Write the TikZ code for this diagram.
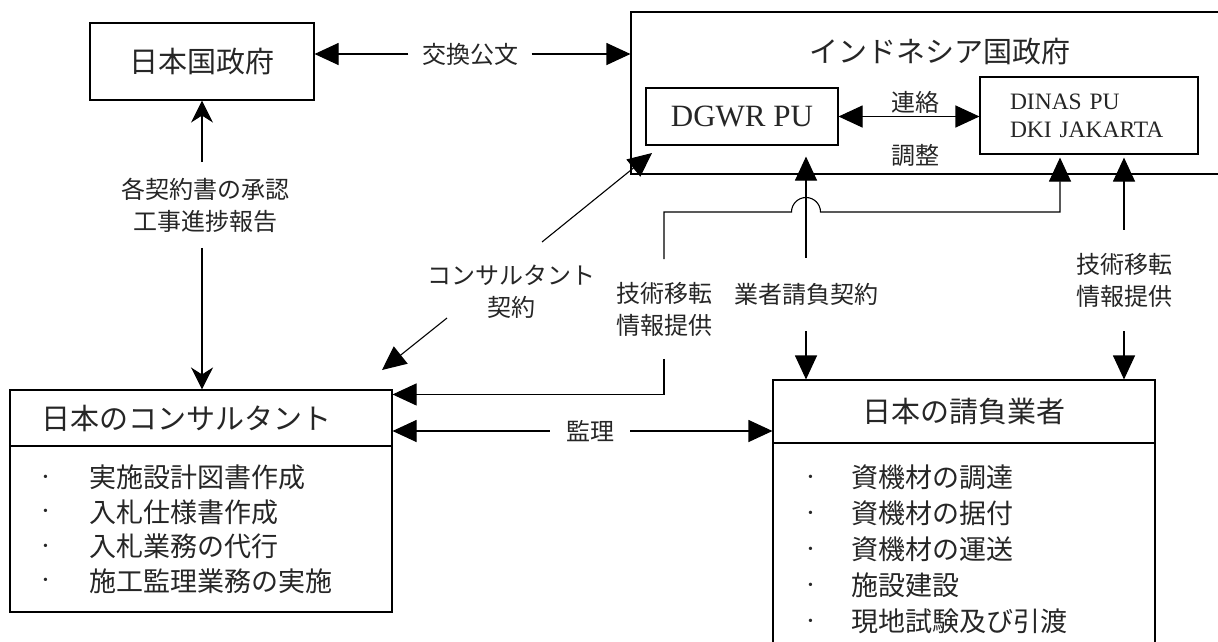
\documentclass[tikz,border=0pt]{standalone}
\usepackage{fontspec}
\setmainfont{Liberation Serif}
\newfontfamily\jpf{Noto Sans CJK JP}
\usetikzlibrary{arrows.meta}
\newcommand\itembul[1]{\makebox[#1][l]{\hspace*{0pt}\raisebox{6.5pt}{\rmfamily\fontsize{14}{14}\selectfont •}}}
\begin{document}
\begin{tikzpicture}[x=1pt,y=-1pt,
  box/.style={draw, line width=1.1pt, inner sep=0pt, text=black!85},
  ttl/.style={font=\jpf\fontsize{29}{34}\selectfont, text=black!85, inner sep=0pt},
  lbl/.style={font=\jpf\fontsize{24}{32}\selectfont, text=black!85, align=center, inner xsep=0pt, inner ysep=0pt},
  arr/.style={line width=1.1pt, -{Triangle[length=24pt,width=22pt]}},
  darr/.style={line width=1.1pt, {Triangle[length=24pt,width=22pt]}-{Triangle[length=24pt,width=22pt]}},
  sarr/.style={line width=1.1pt, -{Stealth[length=22pt,width=22pt,inset=7pt]}}]
\useasboundingbox (0,0) rectangle (1218,641);
\clip (0,0) rectangle (1218,641);
\fill[white] (0,0) rectangle (1218,641);

% boxes
\node[box, minimum width=224pt, minimum height=77pt, font=\jpf\fontsize{29}{34}\selectfont] (jp) at (202,61.5) {日本国政府};
\node[box, minimum width=619pt, minimum height=162pt] (ig) at (940.5,93) {};
\node[ttl] (igt) at (940,52) {インドネシア国政府};
\node[box, minimum width=192pt, minimum height=57pt, font=\fontsize{31}{36}\selectfont] (dg) at (742,116.5) {DGWR PU};
\node[box, minimum width=218pt, minimum height=77pt, text width=158pt, inner xsep=30pt, align=left, font=\fontsize{23.5}{28}\selectfont] (di) at (1089,115.5) {DINAS PU\\DKI JAKARTA};

\node[box, minimum width=382pt, minimum height=56pt, text width=320pt, inner xsep=31pt, align=left, font=\jpf\fontsize{29}{34}\selectfont] (co1) at (201,418) {日本のコンサルタント};
\node[box, minimum width=382pt, minimum height=166pt, text width=316pt, inner xsep=33pt, align=left, font=\jpf\fontsize{27}{34.5}\selectfont] (co2) at (201,529)
  {\itembul{46pt}実施設計図書作成\\\itembul{46pt}入札仕様書作成\\\itembul{46pt}入札業務の代行\\\itembul{46pt}施工監理業務の実施};

\node[box, minimum width=382pt, minimum height=63pt, font=\jpf\fontsize{29}{34}\selectfont] (ct) at (964,411.5) {日本の請負業者};
\node[box, minimum width=382pt, minimum height=213pt, text width=312pt, inner xsep=35pt, align=left, font=\jpf\fontsize{27}{36}\selectfont] (cb) at (964,549.5)
  {\itembul{43pt}資機材の調達\\\itembul{43pt}資機材の据付\\\itembul{43pt}資機材の運送\\\itembul{43pt}施設建設\\\itembul{43pt}現地試験及び引渡};

% labels
\node[lbl] (rl) at (915,102) {連絡};
\node[lbl] (cs) at (915,155) {調整};
\node[lbl, inner xsep=13.5pt] (kk) at (470,54) {交換公文};
\node[lbl, inner ysep=15.5pt] (ap) at (205,205) {各契約書の承認\\工事進捗報告};
\node[lbl] (cl) at (511,292) {コンサルタント\\契約};
\node[lbl, inner ysep=22.5pt] (tl) at (664,309) {技術移転\\情報提供};
\node[lbl, inner ysep=25.5pt] (cc) at (806,294.5) {業者請負契約};
\node[lbl, inner ysep=23.5pt] (tr) at (1124,280.5) {技術移転\\情報提供};
\node[lbl, inner xsep=16pt] (km) at (590,431) {監理};

% connectors
\draw[arr] (kk.west) -- (kk.west -| jp.east);
\draw[arr] (kk.east) -- (kk.east -| ig.west);
\draw[darr] (dg.east) -- (dg.east -| di.west);
\draw[sarr] (ap.north -| jp.south) -- (jp.south);
\draw[sarr] (ap.south -| jp.south) -- (jp.south |- co1.north);

\coordinate (cdA) at (447,318);
\coordinate (cdB) at (542,242);
\coordinate (dgt) at (652,153);
\coordinate (cot) at (382,370);
\draw[arr] (cdB) -- (dgt);
\draw[arr] (cdA) -- (cot);

\coordinate (jmp) at (806,212);
\draw[arr, shorten >=3pt] (tl.north) |- ([xshift=-14.5pt]jmp) arc[start angle=180, end angle=0, radius=14.5pt] -| ([xshift=-29pt]di.south);
\draw[arr] (tl.south) |- ([yshift=-5pt]co1.north east);

\draw[arr, shorten >=11pt] (cc.north) -- (cc.north |- dg.south);
\draw[arr] (cc.south) -- (cc.south |- ct.north);
\draw[arr, shorten >=3pt] (tr.north) -- (tr.north |- di.south);
\draw[arr] (tr.south) -- (tr.south |- ct.north);

\draw[arr] (km.west) -- (km.west -| co1.east);
\draw[arr] (km.east) -- (km.east -| ct.west);
\end{tikzpicture}
\end{document}
